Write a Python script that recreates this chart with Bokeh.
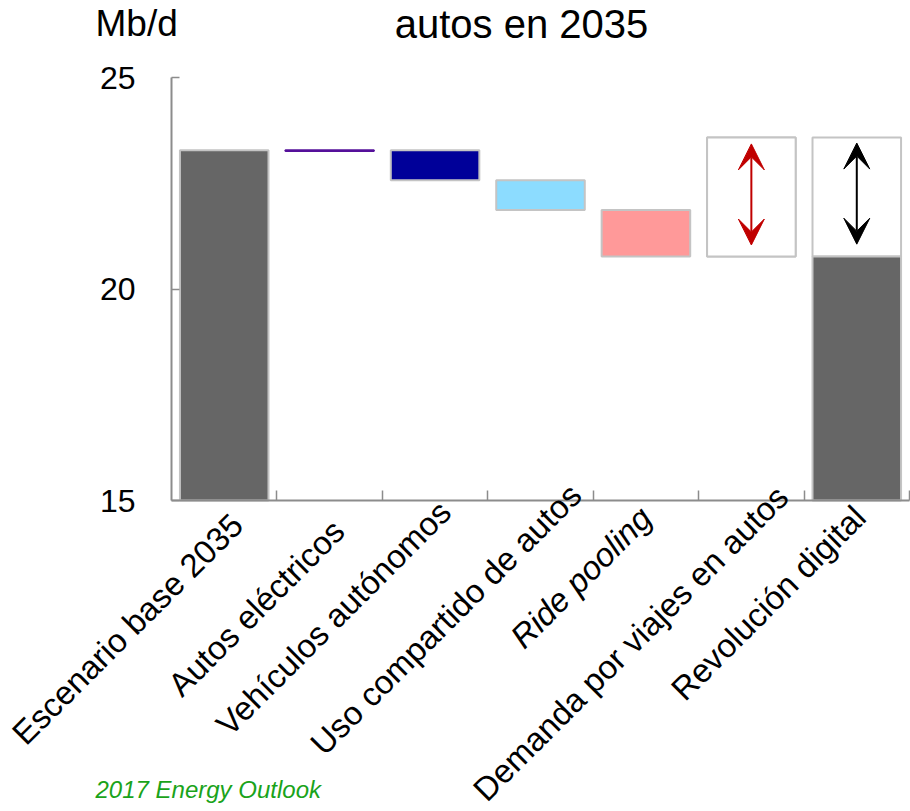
from bokeh.plotting import figure
from bokeh.models import Range1d, FixedTicker, Label, Arrow, VeeHead, ColumnDataSource
from bokeh.embed import file_html
from bokeh.resources import INLINE
import math

# ---------------- data ----------------
categories = ["Escenario base 2035", "Autos eléctricos", "Vehículos autónomos",
              "Uso compartido de autos", "Ride pooling",
              "Demanda por viajes en autos", "Revolución digital"]
bar_bottom = [15.0, 23.265, 22.57, 21.87, 20.77, 20.77, 15.0]
bar_top = [23.28, 23.28, 23.28, 22.57, 21.87, 23.58, 20.77]
box_bottom = [20.77, 20.77]      # uncertainty boxes (Demanda, Revolución)
box_top = [23.58, 23.58]
arrow_low = [21.04, 21.06]
arrow_high = [23.43, 23.45]
y_ticks = [15, 20, 25]
title_text = "autos en 2035"
unit_text = "Mb/d"
source_text = "2017 Energy Outlook"

# ---------------- layout / style ----------------
W, H = 910, 811
FR_L, FR_R, FR_T, FR_B = 171, 909, 77, 500   # pixel box of the axes area
Y0, Y1 = 15, 25
n = len(categories)
ppx = (FR_R - FR_L) / n
ppy = (FR_B - FR_T) / (Y1 - Y0)
x_range = Range1d(-0.5 - FR_L / ppx, n - 0.5 + (W - FR_R) / ppx)
y_range = Range1d(Y0 - (H - FR_B) / ppy, Y1 + FR_T / ppy)

FONT = "Liberation Sans"
AX = "#8c8c8c"
BORDER = "#c4c4c4"
bar_fill = ["#666666", "#55109a", "#000099", "#8cdcff", "#ff9999", "#ffffff", "#666666"]
bar_line = [BORDER, "#55109a", BORDER, BORDER, BORDER, BORDER, BORDER]
arrow_colors = ["#c00000", "#000000"]
label_dx = [13, 9, 10, 35, 0, 31, 3]
label_dy = [-19, -25, -6, 11, -12, 9, -11]
label_style = ["normal", "normal", "normal", "normal", "italic", "normal", "normal"]

xs = list(range(n))

p = figure(width=W, height=H, x_range=x_range, y_range=y_range,
           output_backend="svg", toolbar_location=None, title=None,
           min_border_left=0, min_border_right=0, min_border_top=0, min_border_bottom=0)
p.xgrid.visible = False
p.ygrid.visible = False
p.outline_line_color = None
p.background_fill_color = "white"

# x axis
xa = p.xaxis[0]
xa.fixed_location = Y0
xa.bounds = (-0.5, n - 0.5)
xa.ticker = FixedTicker(ticks=[i + 0.5 for i in xs])
xa.major_label_text_font_size = "0px"
xa.major_tick_in = 10
xa.major_tick_out = 0
xa.minor_tick_line_color = None
xa.axis_line_color = AX
xa.axis_line_width = 2
xa.major_tick_line_color = AX
xa.major_tick_line_width = 1.5

# y axis
ya = p.yaxis[0]
ya.fixed_location = -0.5
ya.bounds = (Y0, Y1)
ya.ticker = FixedTicker(ticks=y_ticks)
ya.major_label_text_font_size = "32px"
ya.major_label_text_font = FONT
ya.major_label_text_color = "black"
ya.major_tick_in = 8
ya.major_tick_out = 0
ya.minor_tick_line_color = None
ya.major_label_standoff = 36
ya.axis_line_color = AX
ya.axis_line_width = 2
ya.major_tick_line_color = AX
ya.major_tick_line_width = 1.5

# uncertainty boxes (white with border)
box_x = [n - 2, n - 1]
p.vbar(x=box_x, bottom=box_bottom, top=box_top, width=0.84,
       fill_color="white", line_color=BORDER, line_width=2)

# bars
src = ColumnDataSource(dict(x=xs, bottom=bar_bottom, top=bar_top, fill=bar_fill, line=bar_line))
p.vbar(x="x", bottom="bottom", top="top", width=0.84, fill_color="fill",
       line_color="line", line_width=2, source=src)

# arrows
for bx, lo, hi, c in zip(box_x, arrow_low, arrow_high, arrow_colors):
    p.add_layout(Arrow(x_start=bx, y_start=lo, x_end=bx, y_end=hi,
                       line_color=c, line_width=2,
                       start=VeeHead(size=26, fill_color=c, line_color=c, line_width=1),
                       end=VeeHead(size=26, fill_color=c, line_color=c, line_width=1)))

# category labels
for i, (cat, dx, dy, st) in enumerate(zip(categories, label_dx, label_dy, label_style)):
    p.add_layout(Label(x=i, y=Y0, x_offset=dx, y_offset=dy, text=cat, angle=math.pi / 4,
                       text_align="right", text_baseline="middle",
                       text_font=FONT, text_font_size="33px", text_font_style=st,
                       text_color="black"))

# title, unit and source
p.add_layout(Label(x=-0.5, y=Y1, x_offset=350, y_offset=54, text=title_text,
                   text_align="center", text_baseline="alphabetic",
                   text_font=FONT, text_font_size="40px",
                   text_color="black"))
p.add_layout(Label(x=-0.5, y=Y1, x_offset=-76, y_offset=54, text=unit_text,
                   text_align="left", text_baseline="alphabetic",
                   text_font=FONT, text_font_size="37px", text_color="black"))
p.add_layout(Label(x=-0.5, y=Y0, x_offset=-76, y_offset=-289, text=source_text,
                   text_align="left", text_baseline="alphabetic",
                   text_font=FONT, text_font_size="24px", text_font_style="italic",
                   text_color="#1aa31a"))

open("out.html", "w").write(file_html(p, INLINE))
